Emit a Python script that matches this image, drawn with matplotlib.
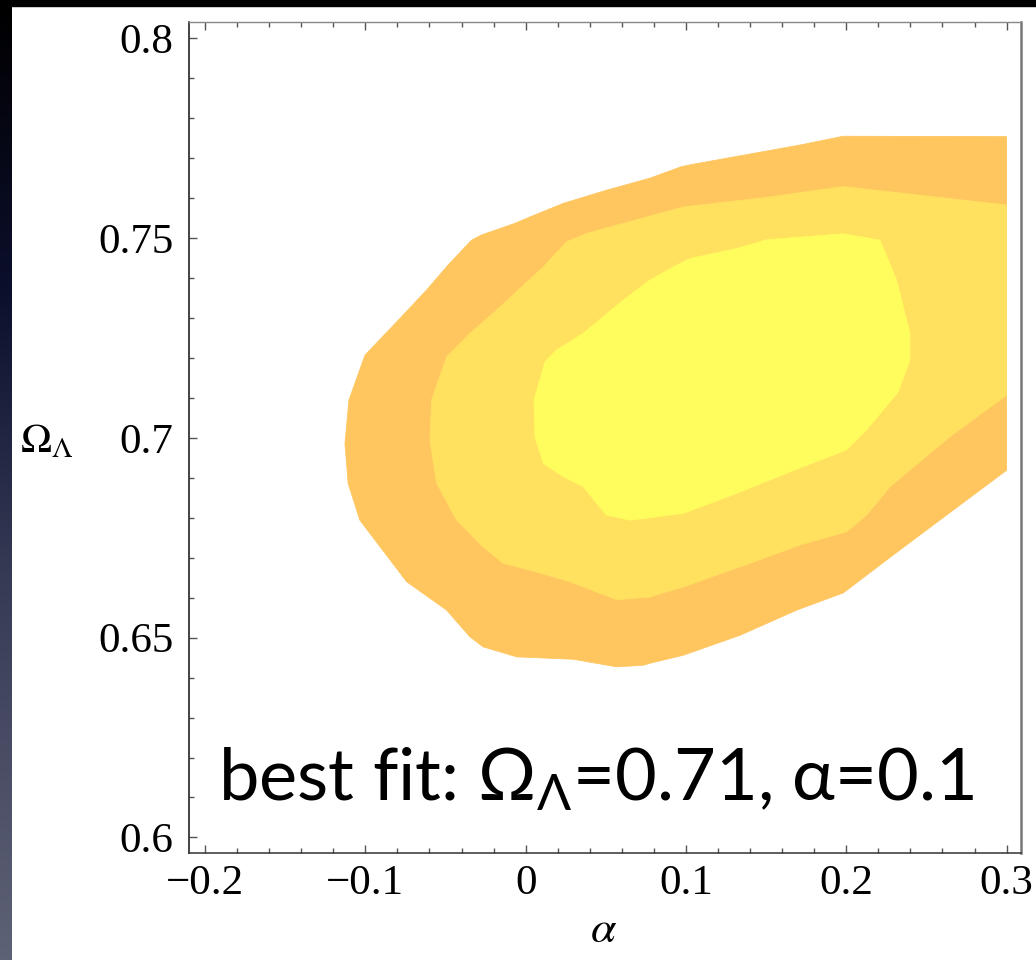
import numpy as np
import matplotlib
matplotlib.use("Agg")
import matplotlib.pyplot as plt
from matplotlib.patches import Rectangle
from matplotlib.colors import LinearSegmentedColormap

# confidence contours (alpha, Omega_Lambda)
outer_alpha = [-0.1127, -0.1102, -0.1002, -0.0784, -0.0618, -0.0483, -0.0337, -0.0274,
               -0.0067, 0.0027, 0.0235, 0.0505, 0.0775, 0.0973, 0.1046, 0.1711, 0.1981,
               0.3, 0.3, 0.2626, 0.2293, 0.1981, 0.1691, 0.1337, 0.0983, 0.0775, 0.0734,
               0.0568, 0.0297, -0.0056, -0.0265, -0.0347, -0.0493, -0.0742, -0.1034, -0.1107]
outer_omega = [0.6986, 0.7095, 0.7207, 0.7299, 0.7370, 0.7433, 0.7495, 0.7508,
               0.7537, 0.7553, 0.7587, 0.7620, 0.7650, 0.7679, 0.7685, 0.7733, 0.7755,
               0.7754, 0.6919, 0.6807, 0.6707, 0.6612, 0.6569, 0.6506, 0.6456, 0.6436, 0.6431,
               0.6427, 0.6446, 0.6452, 0.6477, 0.6502, 0.6569, 0.6640, 0.6794, 0.6886]

mid_alpha = [-0.0597, -0.0586, -0.0493, -0.0347, -0.0181, -0.0025, 0.0110, 0.0256,
             0.0381, 0.0609, 0.0983, 0.1503, 0.1981, 0.3, 0.3, 0.2647, 0.2273, 0.2127,
             0.2002, 0.1711, 0.1399, 0.0983, 0.0775, 0.0568, 0.0276, 0.0027, -0.0140,
             -0.0265, -0.0430, -0.0555]
mid_omega = [0.6995, 0.7095, 0.7203, 0.7262, 0.7320, 0.7378, 0.7428, 0.7491,
             0.7512, 0.7537, 0.7578, 0.7602, 0.7629, 0.7583, 0.7107, 0.7003, 0.6878, 0.6807,
             0.6765, 0.6732, 0.6686, 0.6627, 0.6602, 0.6595, 0.6640, 0.6669, 0.6686,
             0.6727, 0.6794, 0.6886]

inner_alpha = [0.0052, 0.0120, 0.0193, 0.0359, 0.0609, 0.0775, 0.0921, 0.1025, 0.1316,
               0.1503, 0.1981, 0.2210, 0.2314, 0.2397, 0.2397, 0.2324, 0.2127, 0.2002,
               0.1649, 0.1316, 0.0983, 0.0651, 0.0505, 0.0443, 0.0359, 0.0235, 0.0110, 0.0058]
inner_omega = [0.7095, 0.7190, 0.7220, 0.7262, 0.7345, 0.7395, 0.7428, 0.7449, 0.7474,
               0.7496, 0.7511, 0.7495, 0.7395, 0.7262, 0.7195, 0.7115, 0.7020, 0.6970,
               0.6915, 0.6861, 0.6811, 0.6794, 0.6807, 0.6836, 0.6878, 0.6903, 0.6936, 0.7003]

x_ticks = [-0.2, -0.1, 0, 0.1, 0.2, 0.3]
x_tick_labels = ["\u22120.2", "\u22120.1", "0", "0.1", "0.2", "0.3"]
y_ticks = [0.6, 0.65, 0.7, 0.75, 0.8]
y_tick_labels = ["0.6", "0.65", "0.7", "0.75", "0.8"]

C_OUTER = "#FFC65F"
C_MID   = "#FFE05F"
C_INNER = "#FFFC5D"

plt.rcParams["mathtext.fontset"] = "stix"
plt.rcParams["mathtext.rm"] = "Lato"
plt.rcParams["mathtext.it"] = "Lato:italic"
plt.rcParams["mathtext.bf"] = "Lato:bold"

W, H = 1036, 960
fig = plt.figure(figsize=(W / 100, H / 100), dpi=100, facecolor="white")

# dark slide frame: gradient strip on the left, black band on top
grad = LinearSegmentedColormap.from_list(
    "side", [(0, "#000000"), (0.3, "#0c0f2c"), (0.6, "#373a55"), (1, "#5e6276")])
bg = fig.add_axes([0, 0, 12 / W, 1])
bg.imshow(np.linspace(0, 1, 256).reshape(-1, 1), aspect="auto", cmap=grad,
          extent=[0, 1, 0, 1], origin="upper")
bg.axis("off")
fig.patches.append(Rectangle((0, 1 - 6 / H), 1, 6 / H, transform=fig.transFigure,
                             color="black", zorder=10))

ax = fig.add_axes([189 / W, 107 / H, 832 / W, 831 / H])
for a, o, c in [(outer_alpha, outer_omega, C_OUTER),
                (mid_alpha, mid_omega, C_MID),
                (inner_alpha, inner_omega, C_INNER)]:
    ax.fill(a, o, color=c, lw=0.6, ec=c)

ax.set_xlim(-0.21, 0.309)
ax.set_ylim(0.5961, 0.8041)
ax.set_xticks(x_ticks)
ax.set_xticklabels(x_tick_labels)
ax.set_yticks(y_ticks)
ax.set_yticklabels(y_tick_labels)
ax.set_xticks(np.arange(-0.2, 0.31, 0.02), minor=True)
ax.set_yticks(np.arange(0.6, 0.801, 0.01), minor=True)
for lab in ax.get_xticklabels() + ax.get_yticklabels():
    lab.set_family("Liberation Serif")
    lab.set_fontsize(31)
ax.tick_params(which="both", direction="in", top=True, right=False, color="#555555", width=1)
ax.tick_params(which="major", length=5.5, pad=11)
ax.tick_params(which="minor", length=3.3)
ax.tick_params(axis="x", which="major", pad=8)

ax.spines["left"].set_color("#111111")
ax.spines["bottom"].set_color("#333333")
ax.spines["top"].set_color("#888888")
ax.spines["right"].set_color("#777777")
ax.spines["left"].set_linewidth(1.1)
ax.spines["bottom"].set_linewidth(1.1)
ax.spines["top"].set_linewidth(1.0)
ax.spines["right"].set_linewidth(1.8)

fig.text(47 / W, 1 - 440 / H, r"$\Omega_\Lambda$", fontsize=30, ha="center", va="center",
         math_fontfamily="stix")
fig.text(604 / W, 1 - 930 / H, r"$\alpha$", fontsize=33, ha="center", va="center",
         math_fontfamily="stix")

ax.text(-0.192, 0.6093, r"best fit: $\mathrm{\Omega_\Lambda}$=0.71, $\mathrm{\alpha}$=0.1",
        fontsize=52, family=["Lato", "DejaVu Sans"], ha="left", va="baseline",
        math_fontfamily="custom")

fig.savefig("out.png", dpi=100, facecolor="white")
